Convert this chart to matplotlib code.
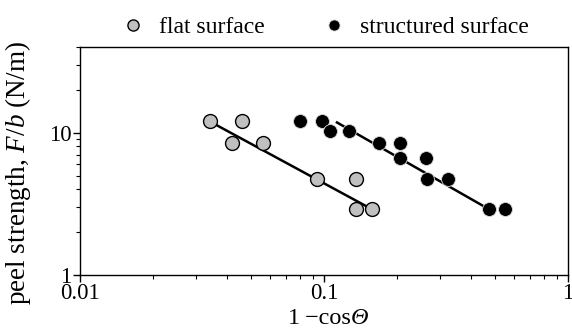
import matplotlib
matplotlib.use("Agg")
import matplotlib.pyplot as plt
from matplotlib.ticker import LogLocator, FixedLocator, NullFormatter, FixedFormatter

plt.rcParams['font.family'] = ['Liberation Serif', 'DejaVu Serif']
plt.rcParams['mathtext.fontset'] = 'custom'
plt.rcParams['mathtext.rm'] = 'Liberation Serif'
plt.rcParams['mathtext.it'] = 'Liberation Serif:italic'

# data
flat_x = [0.034, 0.042, 0.046, 0.056, 0.094, 0.135, 0.135, 0.157]
flat_y = [12.0, 8.4, 12.0, 8.4, 4.7, 4.7, 2.9, 2.9]
struct_x = [0.080, 0.098, 0.106, 0.127, 0.168, 0.205, 0.205, 0.262, 0.264, 0.322, 0.474, 0.552]
struct_y = [12.0, 12.0, 10.2, 10.2, 8.4, 8.4, 6.6, 6.6, 4.7, 4.7, 2.9, 2.9]
flat_fit_x = [0.034, 0.157]
flat_fit_y = [12.0, 2.9]
struct_fit_x = [0.113, 0.474]
struct_fit_y = [11.8, 2.9]
x_ticks = [0.01, 0.1, 1]
x_ticklabels = ['0.01', '0.1', '1']
y_ticks = [1, 10]
y_ticklabels = ['1', '10']

fig = plt.figure(figsize=(5.72, 3.36), dpi=100)
ax = fig.add_axes([80/572, 1-275/336, 488/572, 228/336])

ax.plot(flat_fit_x, flat_fit_y, color='black', lw=1.8, zorder=2)
ax.plot(struct_fit_x, struct_fit_y, color='black', lw=1.8, zorder=2)
h1, = ax.plot(flat_x, flat_y, 'o', ms=10, mfc='#c0c0c0', mec='black', mew=1.0, zorder=3, label='flat surface')
h2, = ax.plot(struct_x, struct_y, 'o', ms=10, mfc='black', mec='#d8d8d8', mew=0.6, zorder=3, label='structured surface')

ax.set_xscale('log')
ax.set_yscale('log')
ax.set_xlim(0.01, 1)
ax.set_ylim(1, 40)
ax.xaxis.set_major_locator(FixedLocator(x_ticks))
ax.xaxis.set_major_formatter(FixedFormatter(x_ticklabels))
ax.yaxis.set_major_locator(FixedLocator(y_ticks))
ax.yaxis.set_major_formatter(FixedFormatter(y_ticklabels))
ax.xaxis.set_minor_locator(LogLocator(base=10, subs=range(2, 10)))
ax.yaxis.set_minor_locator(LogLocator(base=10, subs=range(2, 10)))
ax.xaxis.set_minor_formatter(NullFormatter())
ax.yaxis.set_minor_formatter(NullFormatter())
ax.tick_params(which='major', direction='out', length=5, width=1, labelsize=16.5, pad=1)
ax.tick_params(which='minor', direction='out', length=3, width=0.8)
ax.tick_params(top=False, right=False, which='both')
for s in ax.spines.values():
    s.set_linewidth(1.0)

# x label: "1−cos" upright + italic Θ
xl_y = 1 - 318/336
fig.text(351/572, xl_y, '1\u2009\u2212cos', fontsize=17.5, ha='right', va='center')
fig.text(351/572, xl_y, '\u0398', fontsize=17.5, ha='left', va='center', style='italic')

ax.set_ylabel(r'peel strength, $F/b$ (N/m)', fontsize=19.5)
ax.yaxis.set_label_coords(-47/488, 0.447)

fig.legend(handles=[h1, h2], loc='center', bbox_to_anchor=(325/572, 1-27/336), ncol=2,
           frameon=False, fontsize=17, handletextpad=0.6, columnspacing=2.4,
           handlelength=1.0, markerscale=0.8, borderpad=0.1)

fig.savefig('out.png', dpi=100)
